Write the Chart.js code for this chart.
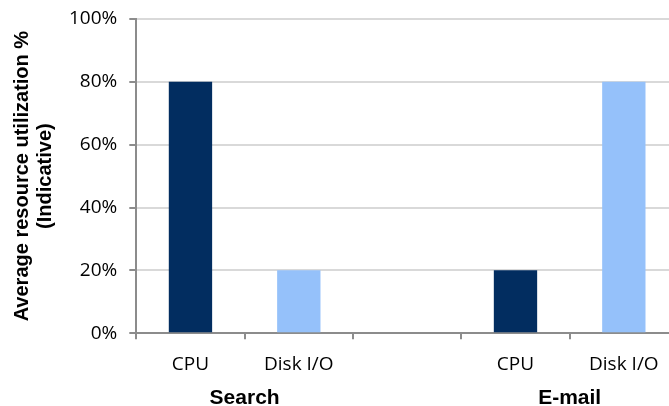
<!DOCTYPE html>
<html>
<head>
<meta charset="utf-8">
<script src="https://cdn.jsdelivr.net/npm/chart.js@4"></script>
<style>
  html, body { margin: 0; padding: 0; background: #fff; overflow: hidden; }
  #wrap { width: 680px; height: 406px; }
</style>
</head>
<body>
<div id="wrap"><canvas id="c"></canvas></div>
<script>
const categories = ["CPU", "Disk I/O", "", "CPU", "Disk I/O"];
const groups = ["Search", "Search", "", "E-mail", "E-mail"];
const utilization = [80, 20, null, 20, 80];
const yTicks = [0, 20, 40, 60, 80, 100];

const colors = { "CPU": "#022D60", "Disk I/O": "#95C1FA" };

// Group labels (Search / E-mail) centred under their categories
const groupLabels = {
  id: "groupLabels",
  afterDraw(chart) {
    const x = chart.scales.x;
    const ctx = chart.ctx;
    const seen = {};
    groups.forEach((g, i) => {
      if (!g) return;
      (seen[g] = seen[g] || []).push(i);
    });
    ctx.save();
    ctx.font = "bold 21px 'Liberation Sans', Arial, sans-serif";
    ctx.fillStyle = "#000";
    ctx.textAlign = "center";
    ctx.textBaseline = "middle";
    for (const g in seen) {
      const idx = seen[g];
      const px = (x.getPixelForValue(idx[0]) + x.getPixelForValue(idx[idx.length - 1])) / 2;
      ctx.fillText(g, px, 398);
    }
    ctx.restore();
  }
};

new Chart(document.getElementById("c"), {
  type: "bar",
  data: {
    labels: categories,
    datasets: [{
      data: utilization,
      backgroundColor: categories.map(c => colors[c] || "#fff"),
      categoryPercentage: 1,
      barPercentage: 0.4
    }]
  },
  options: {
    responsive: true,
    maintainAspectRatio: false,
    animation: false,
    layout: { padding: { left: 11, top: 19, right: 2, bottom: 16 } },
    plugins: { legend: { display: false }, tooltip: { enabled: false } },
    scales: {
      x: {
        grid: {
          drawOnChartArea: false,
          color: "#8c8c8c",
          lineWidth: 2,
          tickLength: 6
        },
        border: { color: "#8c8c8c", width: 2 },
        ticks: {
          color: "#000",
          padding: 14,
          font: { family: "'Open Sans'", size: 19 }
        }
      },
      y: {
        min: 0,
        max: 100,
        afterBuildTicks: s => { s.ticks = yTicks.map(v => ({ value: v })); },
        afterFit: s => { s.paddingTop = 0; },
        grid: {
          color: "#d9d9d9",
          lineWidth: 2,
          tickColor: "#8c8c8c",
          tickLength: 7
        },
        border: { color: "#8c8c8c", width: 2 },
        ticks: {
          color: "#000",
          padding: 12,
          font: { family: "'Open Sans'", size: 19 },
          callback: v => v + "%"
        },
        title: {
          display: true,
          text: ["Average resource utilization %", "(Indicative)"],
          color: "#000",
          font: { family: "'Liberation Sans', Arial", size: 20, weight: "bold", lineHeight: 1.15 },
          padding: { top: 0, bottom: 0 }
        }
      }
    }
  },
  plugins: [groupLabels]
});
</script>
</body>
</html>
